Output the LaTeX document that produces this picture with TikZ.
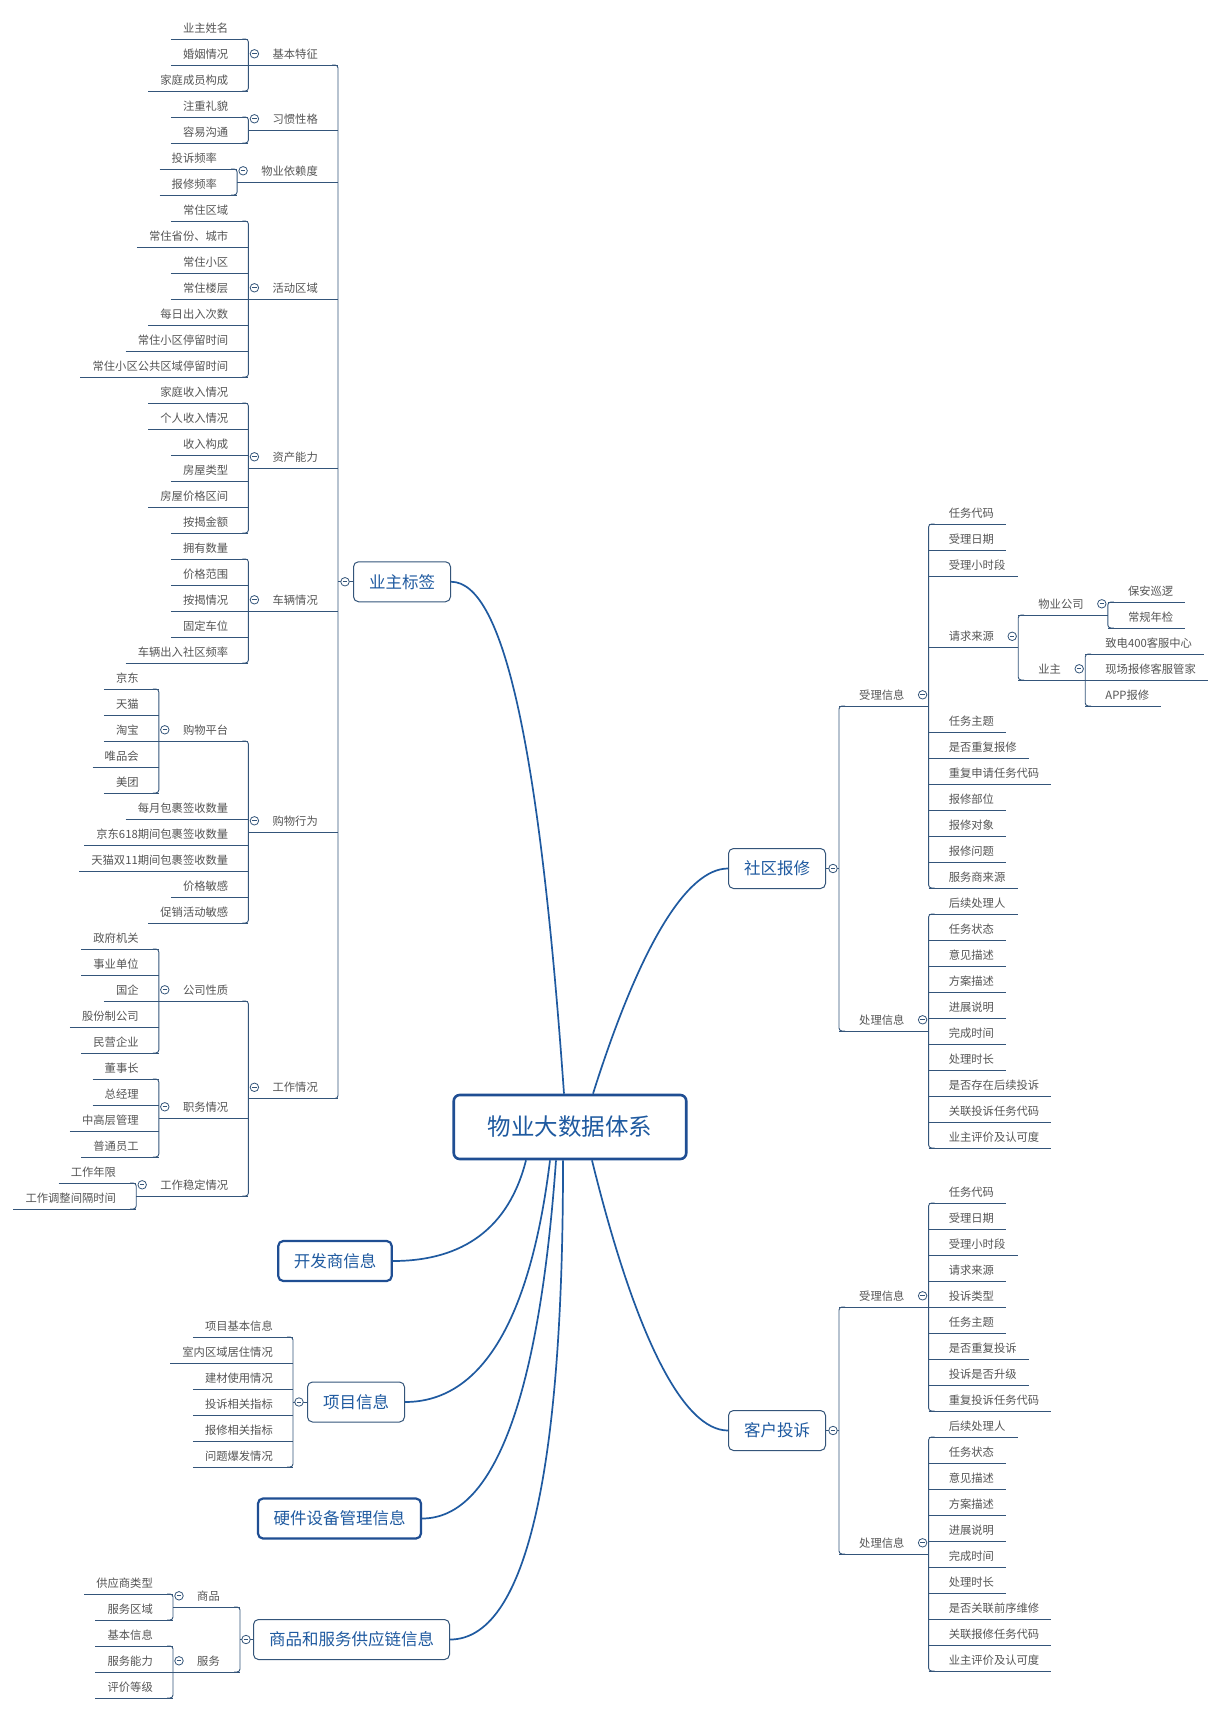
\documentclass[tikz,border=0pt]{standalone}
\usepackage{fontspec}
\newfontfamily\cjk{Noto Sans CJK SC}
\definecolor{linec}{HTML}{34557A}
\definecolor{leafc}{HTML}{555555}
\definecolor{topicc}{HTML}{1F5AA0}
\definecolor{curvec}{HTML}{1F5AA0}
\definecolor{thickc}{HTML}{1F4E93}
\tikzset{
 leaf/.style={inner sep=0pt, minimum height=22pt, text height=10pt, text depth=1.4pt, font=\cjk\fontsize{11.3pt}{13pt}\selectfont, text=leafc},
 conn/.style={draw=linec, line width=0.9pt},
 tog/.style={circle, draw=linec, fill=white, line width=0.8pt, minimum size=8.5pt, inner sep=0pt,
   path picture={\draw[linec,line width=0.7pt] ([xshift=-2.2pt]path picture bounding box.center) -- ([xshift=2.2pt]path picture bounding box.center);}},
 topic/.style={draw=linec, line width=1pt, rounded corners=5pt, fill=white, inner xsep=15.5pt, inner ysep=0pt, minimum height=40pt, text height=14.5pt, text depth=2pt, font=\cjk\fontsize{16.5pt}{19pt}\selectfont, text=topicc},
 topicb/.style={topic, draw=thickc, line width=2.2pt},
 central/.style={draw=thickc, line width=2.6pt, rounded corners=6pt, fill=white, inner xsep=34pt, inner ysep=0pt, minimum height=64pt, text height=20.9pt, text depth=3pt, font=\cjk\fontsize{23.5pt}{27pt}\selectfont, text=topicc},
 curve/.style={draw=curvec, line width=1.7pt},
}
\newcommand\LLeaf[4]{\node[leaf,anchor=south east] (#1) at (#2 |- 0,#3) {\hspace*{12pt}#4\hspace*{20pt}};\draw[conn] (#1.south west) -- (#1.south east);}
\newcommand\LPar[4]{\node[leaf,anchor=south east] (#1) at (#2 |- 0,#3) {\hspace*{24pt}#4\hspace*{20pt}};\draw[conn] (#1.south west) -- (#1.south east);}
\newcommand\RLeaf[4]{\node[leaf,anchor=south west] (#1) at (#2 |- 0,#3) {\hspace*{20pt}#4\hspace*{12pt}};\draw[conn] (#1.south west) -- (#1.south east);}
\newcommand\RPar[4]{\node[leaf,anchor=south west] (#1) at (#2 |- 0,#3) {\hspace*{20pt}#4\hspace*{24pt}};\draw[conn] (#1.south west) -- (#1.south east);}
\newcommand\LBr[2]{\draw[conn,rounded corners=3pt] ([xshift=-6pt]#1.south east) -- (#1.south east) -- (#2.south east) -- ([xshift=-6pt]#2.south east);}
\newcommand\RBr[2]{\draw[conn,rounded corners=3pt] ([xshift=6pt]#1.south west) -- (#1.south west) -- (#2.south west) -- ([xshift=6pt]#2.south west);}
\newcommand\LTog[1]{\node[tog] at ([xshift=6pt]#1.west) {};}
\newcommand\RTog[1]{\node[tog] at ([xshift=-6pt]#1.east) {};}
\begin{document}
\begin{tikzpicture}[x=1pt,y=-1pt]
\useasboundingbox (0,0) rectangle (1223,1715);
\fill[white] (0,0) rectangle (1223,1715);

% ---------- central and main topics ----------
\node[central] (main) at (570,1127) {物业大数据体系};
\node[topic,anchor=west] (yz) at (353,581.75) {业主标签};
\node[topic,anchor=east] (sq) at (826,868.5) {社区报修};
\node[topic,anchor=east] (kh) at (826,1430.5) {客户投诉};
\node[topicb] (kf) at (335,1261) {开发商信息};
\node[topic,anchor=west] (xm) at (307,1402) {项目信息};
\node[topicb] (yj) at (339.5,1518.5) {硬件设备管理信息};
\node[topic,anchor=west] (sp) at (253,1639.5) {商品和服务供应链信息};

% ---------- curves ----------
\draw[curve] ([xshift=-6pt]main.north) .. controls (540,753.8) and (504.7,581.75) .. (yz.east);
\draw[curve] ([xshift=23pt]main.north) .. controls (639.7,946) and (686.7,868.5) .. (sq.west);
\draw[curve] ([xshift=22pt]main.south) .. controls (636.3,1340.3) and (684,1430.5) .. (kh.west);
\draw[curve] ([xshift=-44pt]main.south) .. controls (509,1227.3) and (464,1261) .. (kf.east);
\draw[curve] ([xshift=-20pt]main.south) .. controls (530.3,1321.3) and (481,1402) .. (xm.east);
\draw[curve] ([xshift=-14pt]main.south) .. controls (539,1399) and (493.7,1518.5) .. (yj.east);
\draw[curve] ([xshift=-7pt]main.south) .. controls (563.3,1479.7) and (524.3,1639.5) .. (sp.east);

\coordinate (ybr) at ([xshift=-15pt]yz.west);
\coordinate (sbr) at ([xshift=13pt]sq.east);
\coordinate (kbr) at ([xshift=13pt]kh.east);
\coordinate (xbr) at ([xshift=-14pt]xm.west);
\coordinate (pbr) at ([xshift=-13pt]sp.west);
\draw[conn] (ybr) -- (yz.west);
\draw[conn] (sbr) -- (sq.east);
\draw[conn] (kbr) -- (kh.east);
\draw[conn] (xbr) -- (xm.west);
\draw[conn] (pbr) -- (sp.west);

% ---------- 业主标签 ----------
\LPar{jb}{ybr}{65}{基本特征}
\LLeaf{a1}{jb.south west}{39}{业主姓名}
\LLeaf{a2}{jb.south west}{65}{婚姻情况}
\LLeaf{a3}{jb.south west}{91}{家庭成员构成}
\LBr{a1}{a3}
\LPar{xg}{ybr}{130}{习惯性格}
\LLeaf{b1}{xg.south west}{117}{注重礼貌}
\LLeaf{b2}{xg.south west}{143}{容易沟通}
\LBr{b1}{b2}
\LPar{yl}{ybr}{182}{物业依赖度}
\LLeaf{c1}{yl.south west}{169}{投诉频率}
\LLeaf{c2}{yl.south west}{195}{报修频率}
\LBr{c1}{c2}
\LPar{hd}{ybr}{299}{活动区域}
\LLeaf{d1}{hd.south west}{221}{常住区域}
\LLeaf{d2}{hd.south west}{247}{常住省份、城市}
\LLeaf{d3}{hd.south west}{273}{常住小区}
\LLeaf{d4}{hd.south west}{299}{常住楼层}
\LLeaf{d5}{hd.south west}{325}{每日出入次数}
\LLeaf{d6}{hd.south west}{351}{常住小区停留时间}
\LLeaf{d7}{hd.south west}{377}{常住小区公共区域停留时间}
\LBr{d1}{d7}
\LPar{zc}{ybr}{468}{资产能力}
\LLeaf{e1}{zc.south west}{403}{家庭收入情况}
\LLeaf{e2}{zc.south west}{429}{个人收入情况}
\LLeaf{e3}{zc.south west}{455}{收入构成}
\LLeaf{e4}{zc.south west}{481}{房屋类型}
\LLeaf{e5}{zc.south west}{507}{房屋价格区间}
\LLeaf{e6}{zc.south west}{533}{按揭金额}
\LBr{e1}{e6}
\LPar{cl}{ybr}{611}{车辆情况}
\LLeaf{f1}{cl.south west}{559}{拥有数量}
\LLeaf{f2}{cl.south west}{585}{价格范围}
\LLeaf{f3}{cl.south west}{611}{按揭情况}
\LLeaf{f4}{cl.south west}{637}{固定车位}
\LLeaf{f5}{cl.south west}{663}{车辆出入社区频率}
\LBr{f1}{f5}
\LPar{gw}{ybr}{832}{购物行为}
\LPar{pt}{gw.south west}{741}{购物平台}
\LLeaf{g1}{pt.south west}{689}{京东}
\LLeaf{g2}{pt.south west}{715}{天猫}
\LLeaf{g3}{pt.south west}{741}{淘宝}
\LLeaf{g4}{pt.south west}{767}{唯品会}
\LLeaf{g5}{pt.south west}{793}{美团}
\LBr{g1}{g5}
\LLeaf{h1}{gw.south west}{819}{每月包裹签收数量}
\LLeaf{h2}{gw.south west}{845}{京东618期间包裹签收数量}
\LLeaf{h3}{gw.south west}{871}{天猫双11期间包裹签收数量}
\LLeaf{h4}{gw.south west}{897}{价格敏感}
\LLeaf{h5}{gw.south west}{923}{促销活动敏感}
\LBr{pt}{h5}
\LPar{gz}{ybr}{1098.5}{工作情况}
\LPar{gs}{gz.south west}{1001}{公司性质}
\LLeaf{i1}{gs.south west}{949}{政府机关}
\LLeaf{i2}{gs.south west}{975}{事业单位}
\LLeaf{i3}{gs.south west}{1001}{国企}
\LLeaf{i4}{gs.south west}{1027}{股份制公司}
\LLeaf{i5}{gs.south west}{1053}{民营企业}
\LBr{i1}{i5}
\LPar{zw}{gz.south west}{1118}{职务情况}
\LLeaf{j1}{zw.south west}{1079}{董事长}
\LLeaf{j2}{zw.south west}{1105}{总经理}
\LLeaf{j3}{zw.south west}{1131}{中高层管理}
\LLeaf{j4}{zw.south west}{1157}{普通员工}
\LBr{j1}{j4}
\LPar{wd}{gz.south west}{1196}{工作稳定情况}
\LLeaf{k1}{wd.south west}{1183}{工作年限}
\LLeaf{k2}{wd.south west}{1209}{工作调整间隔时间}
\LBr{k1}{k2}
\LBr{gs}{wd}
\LBr{jb}{gz}

% ---------- 社区报修 ----------
\RPar{s1}{sbr}{706}{受理信息}
\RLeaf{s11}{s1.south east}{524}{任务代码}
\RLeaf{s12}{s1.south east}{550}{受理日期}
\RLeaf{s13}{s1.south east}{576}{受理小时段}
\RPar{s14}{s1.south east}{647.5}{请求来源}
\RPar{s141}{s14.south east}{615}{物业公司}
\RLeaf{s1411}{s141.south east}{602}{保安巡逻}
\RLeaf{s1412}{s141.south east}{628}{常规年检}
\RBr{s1411}{s1412}
\RPar{s142}{s14.south east}{680}{业主}
\RLeaf{s1421}{s142.south east}{654}{致电400客服中心}
\RLeaf{s1422}{s142.south east}{680}{现场报修客服管家}
\RLeaf{s1423}{s142.south east}{706}{APP报修}
\RBr{s1421}{s1423}
\RBr{s141}{s142}
\RLeaf{s15}{s1.south east}{732}{任务主题}
\RLeaf{s16}{s1.south east}{758}{是否重复报修}
\RLeaf{s17}{s1.south east}{784}{重复申请任务代码}
\RLeaf{s18}{s1.south east}{810}{报修部位}
\RLeaf{s19}{s1.south east}{836}{报修对象}
\RLeaf{s1a}{s1.south east}{862}{报修问题}
\RLeaf{s1b}{s1.south east}{888}{服务商来源}
\RBr{s11}{s1b}
\RPar{s2}{sbr}{1031}{处理信息}
\RLeaf{s21}{s2.south east}{914}{后续处理人}
\RLeaf{s22}{s2.south east}{940}{任务状态}
\RLeaf{s23}{s2.south east}{966}{意见描述}
\RLeaf{s24}{s2.south east}{992}{方案描述}
\RLeaf{s25}{s2.south east}{1018}{进展说明}
\RLeaf{s26}{s2.south east}{1044}{完成时间}
\RLeaf{s27}{s2.south east}{1070}{处理时长}
\RLeaf{s28}{s2.south east}{1096}{是否存在后续投诉}
\RLeaf{s29}{s2.south east}{1122}{关联投诉任务代码}
\RLeaf{s2a}{s2.south east}{1148}{业主评价及认可度}
\RBr{s21}{s2a}
\RBr{s1}{s2}

% ---------- 客户投诉 ----------
\RPar{t1}{kbr}{1307}{受理信息}
\RLeaf{t11}{t1.south east}{1203}{任务代码}
\RLeaf{t12}{t1.south east}{1229}{受理日期}
\RLeaf{t13}{t1.south east}{1255}{受理小时段}
\RLeaf{t14}{t1.south east}{1281}{请求来源}
\RLeaf{t15}{t1.south east}{1307}{投诉类型}
\RLeaf{t16}{t1.south east}{1333}{任务主题}
\RLeaf{t17}{t1.south east}{1359}{是否重复投诉}
\RLeaf{t18}{t1.south east}{1385}{投诉是否升级}
\RLeaf{t19}{t1.south east}{1411}{重复投诉任务代码}
\RBr{t11}{t19}
\RPar{t2}{kbr}{1554}{处理信息}
\RLeaf{t21}{t2.south east}{1437}{后续处理人}
\RLeaf{t22}{t2.south east}{1463}{任务状态}
\RLeaf{t23}{t2.south east}{1489}{意见描述}
\RLeaf{t24}{t2.south east}{1515}{方案描述}
\RLeaf{t25}{t2.south east}{1541}{进展说明}
\RLeaf{t26}{t2.south east}{1567}{完成时间}
\RLeaf{t27}{t2.south east}{1593}{处理时长}
\RLeaf{t28}{t2.south east}{1619}{是否关联前序维修}
\RLeaf{t29}{t2.south east}{1645}{关联报修任务代码}
\RLeaf{t2a}{t2.south east}{1671}{业主评价及认可度}
\RBr{t21}{t2a}
\RBr{t1}{t2}

% ---------- 项目信息 ----------
\LLeaf{x1}{xbr}{1337}{项目基本信息}
\LLeaf{x2}{xbr}{1363}{室内区域居住情况}
\LLeaf{x3}{xbr}{1389}{建材使用情况}
\LLeaf{x4}{xbr}{1415}{投诉相关指标}
\LLeaf{x5}{xbr}{1441}{报修相关指标}
\LLeaf{x6}{xbr}{1467}{问题爆发情况}
\LBr{x1}{x6}

% ---------- 商品和服务供应链信息 ----------
\LPar{p1}{pbr}{1607}{商品}
\LLeaf{p11}{p1.south west}{1594}{供应商类型}
\LLeaf{p12}{p1.south west}{1620}{服务区域}
\LBr{p11}{p12}
\LPar{p2}{pbr}{1672}{服务}
\LLeaf{p21}{p2.south west}{1646}{基本信息}
\LLeaf{p22}{p2.south west}{1672}{服务能力}
\LLeaf{p23}{p2.south west}{1698}{评价等级}
\LBr{p21}{p23}
\LBr{p1}{p2}

% ---------- toggles ----------
\node[tog] at ([xshift=-8pt]yz.west) {};
\node[tog] at ([xshift=7pt]sq.east) {};
\node[tog] at ([xshift=7pt]kh.east) {};
\node[tog] at ([xshift=-8pt]xm.west) {};
\node[tog] at ([xshift=-7pt]sp.west) {};
\LTog{jb}\LTog{xg}\LTog{yl}\LTog{hd}\LTog{zc}\LTog{cl}\LTog{gw}\LTog{pt}\LTog{gz}\LTog{gs}\LTog{zw}\LTog{wd}
\LTog{p1}\LTog{p2}
\RTog{s1}\RTog{s14}\RTog{s141}\RTog{s142}\RTog{s2}\RTog{t1}\RTog{t2}
\end{tikzpicture}
\end{document}
